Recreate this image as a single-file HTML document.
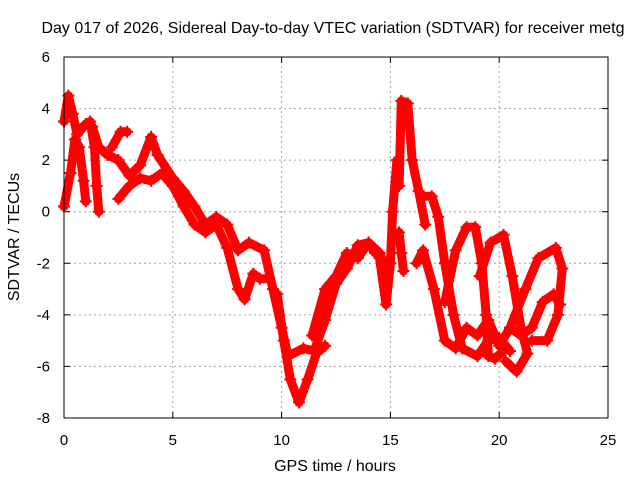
<!DOCTYPE html>
<html><head><meta charset="utf-8"><style>
body{margin:0;background:#fff}
svg{display:block;font-family:"Liberation Sans",sans-serif}
</style></head><body>
<svg id="c" width="640" height="480">
<text x="333" y="33" font-size="16" text-anchor="middle">Day 017 of 2026, Sidereal Day-to-day VTEC variation (SDTVAR) for receiver metg</text>
<text x="335" y="471" font-size="16" text-anchor="middle">GPS time / hours</text>
<text transform="translate(19,237) rotate(-90)" font-size="16" text-anchor="middle">SDTVAR / TECUs</text>
<g id="grid"></g><g id="axes"></g><g id="marks"></g>
<rect x="64" y="57" width="544" height="361" fill="none" stroke="#000" stroke-width="1"/>
</svg>
<script>
const xTicks=[0,5,10,15,20,25];
const yTicks=[-8,-6,-4,-2,0,2,4,6];
const traceA=[[0,3.5],[0.2,4.5],[0.4,3.8],[0.6,3.0],[1,3.4],[1.3,3.3],[1.6,2.5],[2,2.2],[2.5,2.0],[3,1.4],[3.5,1.8],[4,2.9],[4.3,2.2],[5,1.3],[5.5,0.8],[6,0.2],[6.5,-0.5],[7,-0.2],[7.5,-0.5],[8,-1.5],[8.5,-1.2],[9.2,-1.5],[9.6,-3],[10,-4.5],[10.3,-5.6],[11,-5.3],[11.5,-5.4],[12,-4.2],[12.5,-2.8],[13,-2.2],[13.5,-1.3],[14,-1.2],[14.5,-1.6],[14.8,-2.2]];
const traceB=[[0,0.2],[0.3,1.5],[0.5,2.8],[0.7,2.5],[0.9,1.2],[1.0,0.4]];
const traceB2=[[1.2,3.5],[1.4,2.5],[1.5,1.0],[1.6,0.0]];
const traceB3=[[2.2,2.5],[2.6,3.1],[2.9,3.1]];
const traceC=[[2.5,0.5],[3,1.0],[3.5,1.3],[4,1.2],[4.5,1.5],[5,1.0],[5.5,0.2],[6,-0.5],[6.5,-0.8],[7,-0.5],[7.5,-1.4],[8,-3],[8.3,-3.4],[8.7,-2.4],[9,-2.6],[9.4,-2.6]];
const traceD=[[9.8,-3.2],[10.1,-5],[10.4,-6.5],[10.8,-7.4],[11.2,-6.5],[11.6,-5.5],[12,-5.2]];
const traceE=[[11.4,-4.8],[12,-3],[12.5,-2.5],[13,-1.6],[13.5,-1.8],[14,-1.2],[14.3,-1.6]];
const traceF=[[14.5,-1.8],[14.8,-3.6],[15,-2],[15.1,0],[15.3,2],[15.4,1],[15.5,4.3],[15.8,4.2],[16,2],[16.3,0.8],[16.6,-0.5]];
const traceG=[[15.4,-0.8],[15.5,-1.6],[15.6,-2.3]];
const traceH=[[16.5,0.6],[16.9,0.6],[17.2,-0.2],[17.5,-2],[17.9,-4],[18.3,-5.3],[19,-5.6],[19.5,-5],[20,-4.9],[20.5,-5.4]];
const traceI=[[17.5,-3.5],[18,-1.5],[18.5,-0.6],[18.9,-0.6],[19.2,-2],[19.4,-4],[19.5,-5.6],[19.8,-5.7],[20.2,-5.4]];
const traceJ=[[19.1,-2.5],[19.6,-1.2],[20.2,-0.9],[20.6,-2.5],[21,-4.5],[21.3,-5.5],[20.8,-6.2],[20.3,-5.8]];
const traceK=[[20.5,-4.5],[21.2,-3],[21.8,-1.8],[22.6,-1.4],[22.9,-2.2],[22.7,-4],[22.2,-5],[21.5,-5]];
const traceL=[[16.2,-2],[16.5,-1.5],[17,-3],[17.5,-5],[18,-5.3],[18.5,-4.5],[19,-4.8],[19.5,-4.2],[20,-5.2],[20.5,-4.5],[21,-4.8],[21.5,-4.5],[22,-3.5],[22.5,-3.2],[22.8,-3.6]];
const traces=[traceA,traceB,traceB2,traceB3,traceC,traceD,traceE,traceF,traceG,traceH,traceI,traceJ,traceK,traceL];

const X0=64,X1=608,Y0=418,Y1=57;
function sx(v){return X0+(v-0)/(25-0)*(X1-X0);}
function sy(v){return Y0-(v+8)/(14)*(Y0-Y1);}
const NS="http://www.w3.org/2000/svg";
function mk(t,a,p){const e=document.createElementNS(NS,t);for(const k in a)e.setAttribute(k,a[k]);p.appendChild(e);return e;}
const grid=document.getElementById('grid'),axes=document.getElementById('axes'),marks=document.getElementById('marks');
xTicks.forEach(t=>{const x=sx(t);
 if(t>0&&t<25){const g=mk('line',{x1:x,x2:x,y1:Y0,y2:Y1,stroke:'#a0a0a0','stroke-dasharray':'2,3'},grid);
 
 }
 mk('line',{x1:x,x2:x,y1:Y0,y2:Y0-6,stroke:'#000'},axes);mk('line',{x1:x,x2:x,y1:Y1,y2:Y1+6,stroke:'#000'},axes);
 const l=mk('text',{x:x,y:Y0+27,'font-size':15,'text-anchor':'middle'},axes);l.textContent=t;
 
 });
yTicks.forEach(t=>{const y=sy(t);
 if(t>-8&&t<6){const g=mk('line',{x1:X0,x2:X1,y1:y,y2:y,stroke:'#a0a0a0','stroke-dasharray':'2,3'},grid);
 
 }
 mk('line',{x1:X0,x2:X0+6,y1:y,y2:y,stroke:'#000'},axes);mk('line',{x1:X1,x2:X1-6,y1:y,y2:y,stroke:'#000'},axes);
 const l=mk('text',{x:X0-14,y:y+5,'font-size':15,'text-anchor':'end'},axes);l.textContent=t;
 
 });
traces.forEach((tr,i)=>{
 const p=mk('polyline',{points:tr.map(d=>sx(d[0])+','+sy(d[1])).join(' '),fill:'none',stroke:'#ff0000','stroke-width':9,'stroke-linejoin':'round','stroke-linecap':'round'},marks);
 
 
 tr.forEach(d=>{const x=sx(d[0]),y=sy(d[1]);
  const m=mk('path',{d:`M${x-6},${y}H${x+6}M${x},${y-6}V${y+6}`,stroke:'#ff0000','stroke-width':2},marks);
  
  });
});
</script>
</body></html>
